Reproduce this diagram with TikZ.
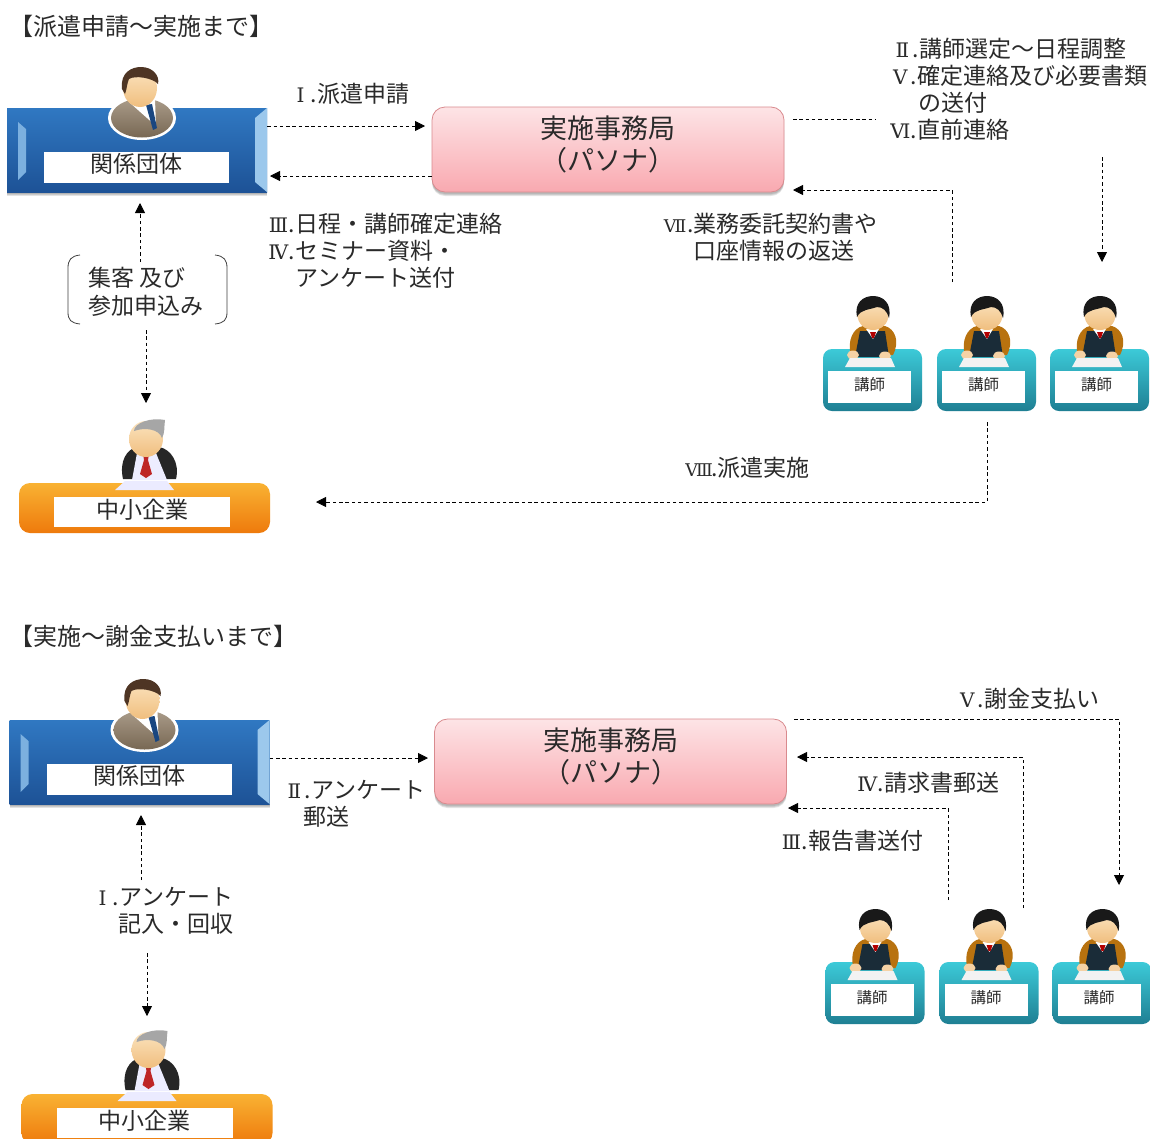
\documentclass[tikz,border=0pt]{standalone}
\usepackage{fontspec}
\setmainfont{Noto Sans CJK JP}
\newfontfamily\romf{DejaVu Serif}
\newcommand{\rn}[1]{\makebox[20.5pt][c]{\romf\fontsize{20}{20}\selectfont #1}}
\newcommand{\rnw}[1]{\makebox[24pt][c]{\romf\fontsize{17.5}{20}\selectfont #1}}
\usetikzlibrary{arrows.meta,calc}
\definecolor{ink}{HTML}{2A2A2A}
\definecolor{orgA}{HTML}{3078C2}
\definecolor{orgB}{HTML}{1D5296}
\definecolor{orgL}{HTML}{9CC8EC}
\definecolor{pinkT}{HTML}{FDE4E6}
\definecolor{pinkB}{HTML}{F9A9B0}
\definecolor{pinkE}{HTML}{D98A8E}
\definecolor{tealT}{HTML}{3CCAD8}
\definecolor{tealB}{HTML}{1F7F93}
\definecolor{orT}{HTML}{F9B233}
\definecolor{orB}{HTML}{EE7A0C}
\definecolor{skinT}{HTML}{FBE3BE}
\definecolor{skinB}{HTML}{F0BE7E}
\definecolor{suitB}{HTML}{8D7A62}
\definecolor{hairB}{HTML}{4E3524}
\definecolor{navy}{HTML}{1A2C38}
\definecolor{chair}{HTML}{B8720F}
\tikzset{
  x=1pt,y=-1pt,
  lbl/.style={anchor=west,inner sep=0pt,font=\fontsize{23}{23}\selectfont,text=ink},
  hdr/.style={anchor=west,inner sep=0pt,font=\fontsize{24}{24}\selectfont,text=ink},
  conn/.style={draw=black,line width=.8pt,dash pattern=on 3.5pt off 2.8pt},
  arr/.style={conn,-{Triangle[length=10pt,width=10pt]}},
  whitelabel/.style={fill=white,inner sep=0pt},
  labeltext/.style={inner sep=0pt,text=ink},
  pics/orgpic/.style={code={
    \foreach \s in {1,2,3,4}{\fill[black,opacity=.11] (0,10) rectangle (260,84+\s);}
    \node[minimum width=260pt,minimum height=84pt,inner sep=0pt,top color=orgA,bottom color=orgB] (-box) at (130,42) {};
    \fill[orgL!70!orgA] (11,14) -- (19,21) -- (19,64) -- (11,72) -- cycle;
    \fill[orgL] (260,0) -- (248,10) -- (248,74) -- (260,84) -- cycle;
    \fill[white] (135,10) ellipse (34 and 22);
    \shade[top color=suitB!75!white,bottom color=suitB!85!black] (135,10) ellipse (31 and 19.5);
    \fill[white] (122,-6) -- (148,-9) -- (149,18) -- cycle;
    \fill[orgB!85!black] (139,-3) -- (145,-4) -- (150,20) -- (146,22) -- cycle;
    \shade[top color=skinT,bottom color=skinB] (133,-20) ellipse (17 and 19);
    \fill[hairB] (115,-19) .. controls (113,-36) and (125,-41) .. (134,-41) .. controls (146,-41) and (153,-32) .. (151,-24) .. controls (146,-30) and (128,-33) .. (122,-29) .. controls (120,-25) and (120,-19) .. (118,-14) -- cycle;
    \node[whitelabel,minimum width=185pt,minimum height=31pt] (-label) at (129.5,59.5) {};
    \node[labeltext,font=\fontsize{23}{23}\selectfont] (-text) at (129.5,56) {関係団体};
  }},
  pics/smepic/.style={code={
    \node[minimum width=251pt,minimum height=50pt,inner sep=0pt,rounded corners=11pt,top color=orT,bottom color=orB] (-box) at (125.5,25) {};
    \fill[black!85] (104,-4) .. controls (100,-22) and (108,-34) .. (118,-36) -- (140,-36) .. controls (152,-34) and (161,-20) .. (157,-4) -- cycle;
    \fill[white!93!blue] (113,-3) -- (118,-30) -- (137,-30) -- (148,-3) -- cycle;
    \fill[red!70!black!85] (124,-29) -- (130,-29) -- (129,-23) -- (133,-9) -- (127,-5) -- (121,-9) -- (125,-23) -- cycle;
    \shade[top color=skinT,bottom color=skinB] (127,-44) ellipse (17 and 18);
    \fill[black!35] (115,-52) .. controls (115,-60) and (132,-66) .. (146,-63) .. controls (145,-56) and (146,-50) .. (143,-45) .. controls (140,-54) and (126,-56) .. (115,-52) -- cycle;
    \fill[blue!8!white] (96,7) -- (106,-2) -- (148,-2) -- (155,7) -- cycle;
    \node[whitelabel,minimum width=176pt,minimum height=30pt] (-label) at (123,29) {};
    \node[labeltext,font=\fontsize{23}{23}\selectfont] (-text) at (123,27) {中小企業};
  }},
  pics/officepic/.style={code={
    \foreach \s in {1,2,3}{\fill[black,opacity=.1,rounded corners=13pt] (0,10) rectangle (352,85+\s+1);}
    \node[minimum width=352pt,minimum height=85pt,inner sep=0pt,rounded corners=13pt,draw=pinkE,line width=.8pt,top color=pinkT,bottom color=pinkB] (-box) at (176,42.5) {};
    \node[labeltext,align=center,font=\fontsize{27}{32}\selectfont] (-text) at (176,37) {実施事務局\\（パソナ）};
  }},
  pics/teacherpic/.style={code={
    \node[minimum width=99pt,minimum height=62pt,inner sep=0pt,rounded corners=9pt,top color=tealT,bottom color=tealB] (-box) at (49.5,31) {};
    \fill[chair] (28,6) .. controls (24,-8) and (30,-21) .. (40,-23) -- (62,-23) .. controls (72,-20) and (77,-8) .. (70,6) -- cycle;
    \fill[navy] (32,8) -- (37,-18) -- (62,-18) -- (66,8) -- cycle;
    \fill[white] (43,-20) -- (56,-20) -- (50,-10) -- cycle;
    \fill[red!70!black] (47,-17) -- (53,-17) -- (51,-11) -- (49,-11) -- cycle;
    \shade[top color=skinT,bottom color=skinB] (50,-34) ellipse (15.5 and 15);
    \fill[black!90] (34,-32) .. controls (31,-46) and (40,-53) .. (50,-53) .. controls (60,-53) and (69,-46) .. (66,-31) .. controls (64,-38) and (60,-42) .. (54,-42) .. controls (46,-39) and (38,-40) .. (34,-32) -- cycle;
    \fill[skinB!70!white] (30,6) ellipse (6 and 4.5);
    \fill[skinB!70!white] (62,7) ellipse (6 and 4.5);
    \fill[white!90!gray] (27,9) -- (68,9) -- (72,18) -- (22,18) -- cycle;
    \node[whitelabel,minimum width=83pt,minimum height=32pt] (-label) at (46.5,38) {};
    \node[labeltext,font=\fontsize{15.5}{15.5}\selectfont] (-text) at (46.5,36) {講師};
  }},
}
\begin{document}
\begin{tikzpicture}
\clip (0,0) rectangle (1150,1138);
\fill[white] (0,0) rectangle (1150,1138);

% ---------- upper part
\node[hdr] (h1) at (9,26) {【派遣申請～実施まで】};
\pic (orgU) at (7,108) {orgpic};
\pic (smeU) at (19,483) {smepic};
\pic (offU) at (432,107) {officepic};
\pic (tUa) at (823,349) {teacherpic};
\pic (tUb) at (937,349) {teacherpic};
\pic (tUc) at (1050,349) {teacherpic};

\node[lbl] (a1) at (290,94) {\rn{Ⅰ}.派遣申請};
\node[lbl] (a2) at (268,224) {\rn{Ⅲ}.日程・講師確定連絡};
\node[lbl] (a3) at (268,251) {\rn{Ⅳ}.セミナー資料・};
\node[lbl] (a4) at (295,278) {アンケート送付};
\node[lbl] (a5) at (892,49) {\rn{Ⅱ}.講師選定～日程調整};
\node[lbl] (a6) at (890,76) {\rn{Ⅴ}.確定連絡及び必要書類};
\node[lbl] (a7) at (918,103) {の送付};
\node[lbl] (a8) at (890,130) {\rn{Ⅵ}.直前連絡};
\node[lbl] (a9) at (663,224) {\rnw{Ⅶ}.業務委託契約書や};
\node[lbl] (a10) at (693,251) {口座情報の返送};
\node[lbl] (a11) at (687,468) {\rnw{Ⅷ}.派遣実施};
\node[lbl] (a12) at (88,278) {集客 及び};
\node[lbl] (a13) at (88,306) {参加申込み};

\draw[black!75,line width=.8pt] (80,255) .. controls (71,256) and (68,260) .. (68,268) -- (68,312) .. controls (68,320) and (71,323) .. (80,324);
\draw[black!75,line width=.8pt] (215,255) .. controls (224,256) and (227,260) .. (227,268) -- (227,312) .. controls (227,320) and (224,323) .. (215,324);

\coordinate (yU1) at (0,126);
\coordinate (yU2) at (0,176);
\coordinate (yU3) at (0,119);
\coordinate (yU4) at (0,190);
\coordinate (xUa) at (425,0);
\coordinate (xUb) at (270,0);
\coordinate (xUc) at (793,0);
\coordinate (cU1s) at (140,262);
\coordinate (cU1e) at (140,203);
\coordinate (cU2s) at (146,330);
\coordinate (cU2e) at (146,403);
\coordinate (cU3) at (875,119);
\coordinate (cU4) at (1102,157);
\coordinate (cU5) at (1102,262);
\coordinate (cU6s) at (952,282);
\coordinate (cU6) at (952,190);
\coordinate (cU7s) at (987,422);
\coordinate (cU7) at (987,502);
\coordinate (cU8) at (316,502);
\draw[arr] (orgU-box.east |- yU1) -- (xUa |- yU1);
\draw[arr] (offU-box.west |- yU2) -- (xUb |- yU2);
\draw[arr] (cU1s) -- (cU1e);
\draw[arr] (cU2s) -- (cU2e);
\draw[conn] (xUc |- yU3) -- (cU3);
\draw[arr] (cU4) -- (cU5);
\draw[arr] (cU6s) -- (cU6) -- (xUc |- yU4);
\draw[arr] (cU7s) -- (cU7) -- (cU8);

% ---------- lower part
\node[hdr] (h2) at (9,636) {【実施～謝金支払いまで】};
\pic (orgL) at (9.5,720) {orgpic};
\pic (smeL) at (21.5,1094) {smepic};
\pic (offL) at (434.5,719) {officepic};
\pic (tLa) at (825.5,962) {teacherpic};
\pic (tLb) at (939.5,962) {teacherpic};
\pic (tLc) at (1052.5,962) {teacherpic};

\node[lbl] (b1) at (957,699) {\rn{Ⅴ}.謝金支払い};
\node[lbl] (b2) at (857,783) {\rn{Ⅳ}.請求書郵送};
\node[lbl] (b3) at (781,841) {\rn{Ⅲ}.報告書送付};
\node[lbl] (b4) at (284,790) {\rn{Ⅱ}.アンケート};
\node[lbl] (b5) at (303,817) {郵送};
\node[lbl] (b6) at (92,897) {\rn{Ⅰ}.アンケート};
\node[lbl] (b7) at (118,924) {記入・回収};

\coordinate (yL1) at (0,758);
\coordinate (xLa) at (428,0);
\coordinate (cL1s) at (141,880);
\coordinate (cL1e) at (141,815);
\coordinate (cL2s) at (147,953);
\coordinate (cL2e) at (147,1016);
\coordinate (cL3s) at (794,719);
\coordinate (cL3) at (1119,719);
\coordinate (cL4) at (1119,885);
\coordinate (cL5e) at (797,757);
\coordinate (cL5) at (1023,757);
\coordinate (cL6e) at (788,808);
\coordinate (cL6) at (948,808);
\coordinate (cL7) at (1023,908);
\coordinate (cL8) at (948,900);
\draw[arr] (orgL-box.east |- yL1) -- (xLa |- yL1);
\draw[arr] (cL1s) -- (cL1e);
\draw[arr] (cL2s) -- (cL2e);
\draw[arr] (cL3s) -- (cL3) -- (cL4);
\draw[arr] (cL7) -- (cL5) -- (cL5e);
\draw[arr] (cL8) -- (cL6) -- (cL6e);
\end{tikzpicture}
\end{document}
